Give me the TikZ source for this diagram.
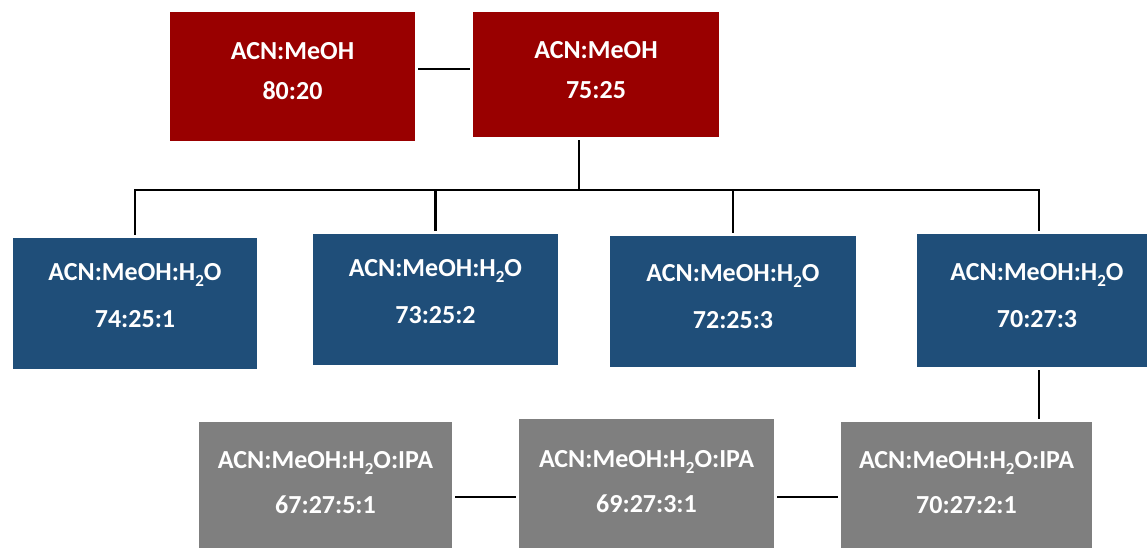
\documentclass[tikz,border=0pt]{standalone}
\usepackage{fontspec}
\setmainfont{Carlito}
\usetikzlibrary{positioning}
\definecolor{mixred}{HTML}{990000}
\definecolor{mixblue}{HTML}{1F4E79}
\definecolor{mixgrey}{HTML}{7F7F7F}
\newcommand{\subtwo}{\raisebox{-6pt}{\fontsize{17}{17}\selectfont 2}}

\begin{document}
\begin{tikzpicture}[x=1pt, y=-1pt,
    box/.style={rectangle, minimum width=245pt, minimum height=131pt, inner sep=0pt},
    redbox/.style={box, fill=mixred},
    bluebox/.style={box, fill=mixblue},
    greybox/.style={box, fill=mixgrey, minimum width=253pt, minimum height=130pt},
    txt/.style={text=white, align=center, inner sep=0pt, font=\bfseries\fontsize{26}{40}\selectfont},
    txtb/.style={txt, font=\bfseries\fontsize{26}{47}\selectfont},
    txtg/.style={txt, font=\bfseries\fontsize{26}{45}\selectfont},
    link/.style={line width=2.4pt, shorten <=3pt, shorten >=3pt}]
    \useasboundingbox (0,0) rectangle (1147,548);

    % two-solvent mixtures
    \node[redbox, minimum height=129pt] (m1) at (292.5,76.5) {};
    \node[redbox, minimum width=246pt, minimum height=125pt] (m2) at (596,74.5) {};
    \node[txt] (m1t) at ([yshift=5pt]m1.center) {ACN:MeOH\\80:20};
    \node[txt] (m2t) at ([yshift=4pt]m2.center) {ACN:MeOH\\75:25};

    % with water
    \node[bluebox, minimum width=244pt] (w1) at (135,303.5) {};
    \node[bluebox] (w2) at (435.5,299.5) {};
    \node[bluebox, minimum width=246pt] (w3) at (733,301.5) {};
    \node[bluebox, minimum height=133pt] (w4) at (1039,300.5) {};
    \node[txtb] (w1t) at ([yshift=7.5pt]w1.center) {ACN:MeOH:H\subtwo O\\74:25:1};
    \node[txtb] (w2t) at ([yshift=8pt]w2.center) {ACN:MeOH:H\subtwo O\\73:25:2};
    \node[txtb] (w3t) at ([yshift=5pt]w3.center) {ACN:MeOH:H\subtwo O\\72:25:3};
    \node[txtb] (w4t) at ([yshift=4.5pt,xshift=-2pt]w4.center) {ACN:MeOH:H\subtwo O\\70:27:3};

    % with water and IPA
    \node[greybox] (i1) at (325.5,487) {};
    \node[greybox, minimum width=255pt] (i2) at (646.5,484) {};
    \node[greybox, minimum width=251pt] (i3) at (966.5,487) {};
    \node[txtg] (i1t) at ([yshift=4pt]i1.center) {ACN:MeOH:H\subtwo O:IPA\\67:27:5:1};
    \node[txtg] (i2t) at ([yshift=2pt]i2.center) {ACN:MeOH:H\subtwo O:IPA\\69:27:3:1};
    \node[txtg] (i3t) at ([yshift=4pt]i3.center) {ACN:MeOH:H\subtwo O:IPA\\70:27:2:1};

    % connectors
    \coordinate (top) at (0,69);
    \coordinate (bus) at (579,190);
    \coordinate (low) at (0,497);
    \draw[link] (m1.east |- top) -- (m2.west |- top);
    \draw[link, shorten >=0pt] (m2.south -| bus) -- (bus);
    \draw[link] (w1.north) -- (w1.north |- bus) -- (w4.north |- bus) -- (w4.north);
    \foreach \n in {w2, w3}
        \draw[link, shorten <=0pt] (\n.north |- bus) -- (\n.north);
    \draw[link] (w4.south) -- (w4.south |- i3.north);
    \draw[link] (i1.east |- low) -- (i2.west |- low);
    \draw[link] (i2.east |- low) -- (i3.west |- low);
\end{tikzpicture}
\end{document}
